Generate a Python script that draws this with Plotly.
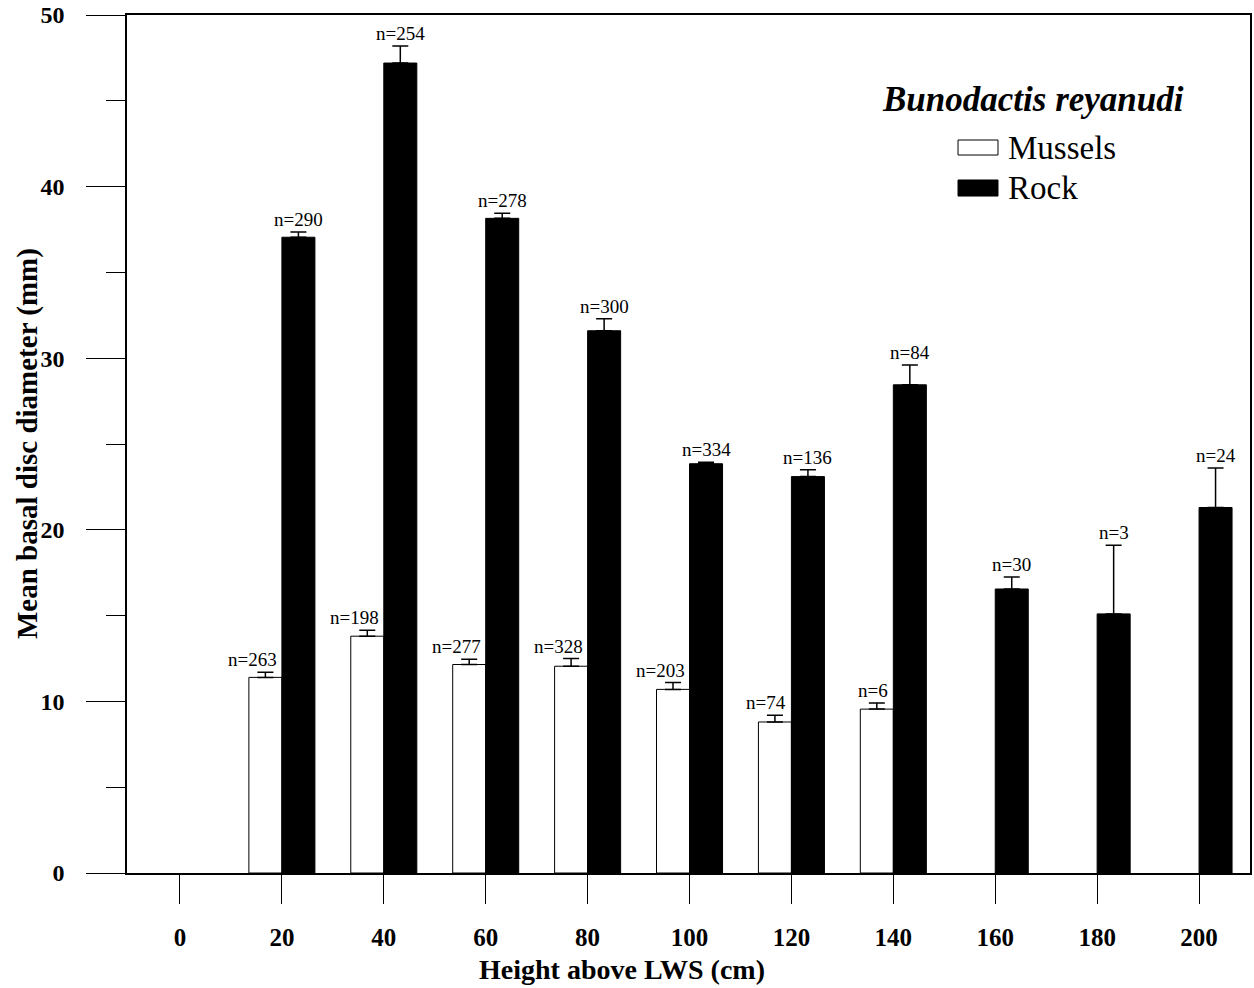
import plotly.graph_objects as go

# Height above low water spring (cm)
heights = ["0", "20", "40", "60", "80", "100", "120", "140", "160", "180", "200"]

# Mean basal disc diameter (mm) and standard error, anemones on mussel beds
mussels_mean = [None, 11.4, 13.8, 12.15, 12.05, 10.7, 8.8, 9.55, None, None, None]
mussels_se = [None, 0.3, 0.35, 0.3, 0.45, 0.4, 0.4, 0.35, None, None, None]
mussels_n = [None, 263, 198, 277, 328, 203, 74, 6, None, None, None]

# Anemones on bare rock
rock_mean = [None, 37.05, 47.2, 38.15, 31.6, 23.85, 23.1, 28.45, 16.55, 15.1, 21.3]
rock_se = [None, 0.3, 1.0, 0.3, 0.7, 0.08, 0.4, 1.15, 0.7, 4.0, 2.3]
rock_n = [None, 290, 254, 278, 300, 334, 136, 84, 30, 3, 24]

FONT = "Liberation Serif"

fig = go.Figure()

fig.add_trace(go.Bar(
    name="Mussels", x=heights, y=mussels_mean,
    marker=dict(color="white", line=dict(color="black", width=1)),
    error_y=dict(type="data", array=mussels_se, arrayminus=[0] * len(heights),
                 symmetric=False, color="black", thickness=1.5, width=8),
))
fig.add_trace(go.Bar(
    name="Rock", x=heights, y=rock_mean,
    marker=dict(color="black", line=dict(color="black", width=1)),
    error_y=dict(type="data", array=rock_se, arrayminus=[0] * len(heights),
                 symmetric=False, color="black", thickness=1.5, width=8),
))

# sample-size labels above each error bar (category axis positions are indices);
# mussel labels end just left of the neighbouring rock bar
for i, (m, s, n) in enumerate(zip(mussels_mean, mussels_se, mussels_n)):
    if m is None:
        continue
    fig.add_annotation(
        x=i, y=m + s, xref="x", yref="y", text=f"n={n}",
        showarrow=False, xanchor="right", xshift=-3, yanchor="bottom",
        font=dict(family=FONT, size=19, color="black"),
    )
for i, (m, s, n) in enumerate(zip(rock_mean, rock_se, rock_n)):
    if m is None:
        continue
    fig.add_annotation(
        x=i, y=m + s, xref="x", yref="y", text=f"n={n}",
        showarrow=False, xanchor="center", xshift=16.5, yanchor="bottom",
        font=dict(family=FONT, size=19, color="black"),
    )

# legend block
fig.add_annotation(
    x=0.8068, y=0.901, xref="paper", yref="paper",
    text="<b><i>Bunodactis reyanudi</i></b>", showarrow=False,
    xanchor="center", yanchor="middle",
    font=dict(family=FONT, size=35, color="black"),
)
legend_rows = [("Mussels", "white", 0.8368, 0.8543, 0.845),
               ("Rock", "black", 0.789, 0.8077, 0.798)]
for label, fill, y0, y1, yt in legend_rows:
    fig.add_shape(type="rect", xref="paper", yref="paper",
                  x0=0.740, x1=0.7756, y0=y0, y1=y1,
                  fillcolor=fill, line=dict(color="black", width=1))
    fig.add_annotation(
        x=0.7827, y=yt, xref="paper", yref="paper", text=label,
        showarrow=False, xanchor="left", yanchor="middle",
        font=dict(family=FONT, size=33, color="black"),
    )

# axis titles
fig.add_annotation(
    x=0.4408, y=-0.113, xref="paper", yref="paper",
    text="<b>Height above LWS (cm)</b>", showarrow=False,
    xanchor="center", yanchor="middle",
    font=dict(family=FONT, size=28, color="black"),
)
fig.add_annotation(
    x=-0.089, y=0.5, xref="paper", yref="paper",
    text="<b>Mean basal disc diameter (mm)</b>", showarrow=False,
    textangle=-90, xanchor="center", yanchor="middle",
    font=dict(family=FONT, size=29, color="black"),
)

fig.update_layout(
    width=1254, height=988,
    margin=dict(l=127, r=4, t=15, b=115, autoexpand=False),
    paper_bgcolor="white", plot_bgcolor="white",
    barmode="group", bargap=0.352, bargroupgap=0,
    showlegend=False,
    font=dict(family=FONT, color="black"),
)

fig.update_xaxes(
    type="category", range=[-0.52, 10.5],
    showline=True, linecolor="black", linewidth=1.5, mirror=True,
    ticks="outside", ticklen=29, tickwidth=1, tickcolor="black",
    ticklabelstandoff=12,
    tickfont=dict(family=FONT, size=25, color="black", weight="bold"),
    showgrid=False, zeroline=False,
)
fig.update_yaxes(
    range=[0, 50], tickvals=[0, 10, 20, 30, 40, 50],
    showline=True, linecolor="black", linewidth=1.5, mirror=True,
    ticks="outside", ticklen=39, tickwidth=1, tickcolor="black",
    ticklabelstandoff=17,
    minor=dict(dtick=5, ticks="outside", ticklen=19, tickwidth=1, tickcolor="black"),
    tickfont=dict(family=FONT, size=24, color="black", weight="bold"),
    showgrid=False, zeroline=False,
)

fig.write_html("out.html")
